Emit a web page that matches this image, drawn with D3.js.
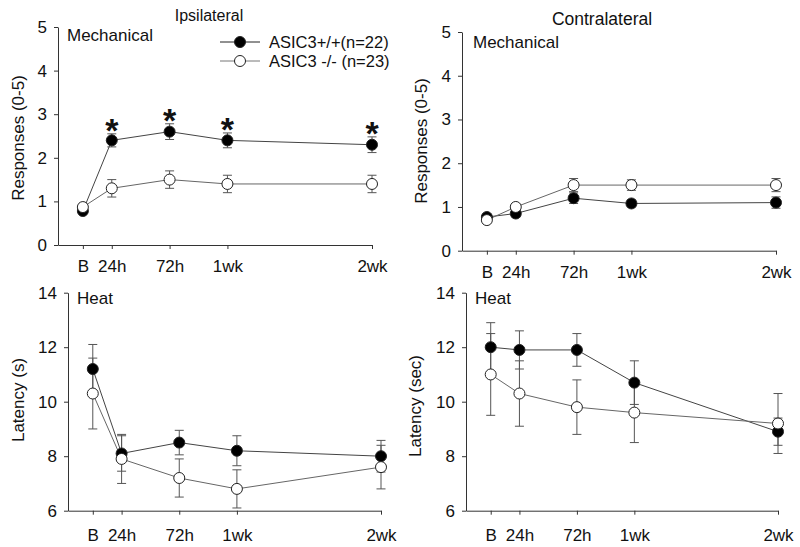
<!DOCTYPE html>
<html>
<head>
<meta charset="utf-8">
<script src="https://cdn.jsdelivr.net/npm/d3@7"></script>
<style>
  body { margin: 0; background: #fff; }
  svg text { font-family: Arial, "Liberation Sans", sans-serif; fill: #111; }
</style>
</head>
<body>
<div id="chart"></div>
<script>
// time points and where they sit on the x axis
var timeLabels = ['B', '24h', '72h', '1wk', '2wk'];
var timePos = [0, 1, 3, 5, 10];

var respTicks = [0, 1, 2, 3, 4, 5];
var latTicks = [6, 8, 10, 12, 14];

var seriesNames = ['ASIC3+/+(n=22)', 'ASIC3 -/- (n=23)'];

// ipsilateral, mechanical
var ipsiMechWT = [0.78, 2.4, 2.6, 2.4, 2.3];
var ipsiMechWTErr = [0.05, 0.15, 0.18, 0.17, 0.18];
var ipsiMechKO = [0.87, 1.3, 1.5, 1.4, 1.4];
var ipsiMechKOErr = [0.05, 0.2, 0.2, 0.2, 0.2];
var ipsiMechSig = [1, 2, 3, 4];

// contralateral, mechanical
var contraMechWT = [0.77, 0.85, 1.2, 1.08, 1.1];
var contraMechWTErr = [0.05, 0.08, 0.12, 0.08, 0.13];
var contraMechKO = [0.7, 1.0, 1.5, 1.5, 1.5];
var contraMechKOErr = [0.05, 0.06, 0.15, 0.12, 0.15];

// ipsilateral, heat
var ipsiHeatWT = [11.2, 8.1, 8.5, 8.2, 8.0];
var ipsiHeatWTErr = [0.9, 0.65, 0.45, 0.55, 0.58];
var ipsiHeatKO = [10.3, 7.9, 7.2, 6.8, 7.6];
var ipsiHeatKOErr = [1.3, 0.9, 0.7, 0.7, 0.8];

// contralateral, heat
var contraHeatWT = [12.0, 11.9, 11.9, 10.7, 8.9];
var contraHeatWTErr = [0.9, 0.7, 0.6, 0.8, 0.5];
var contraHeatKO = [11.0, 10.3, 9.8, 9.6, 9.2];
var contraHeatKOErr = [1.5, 1.2, 1.0, 1.1, 1.1];

var width = 800, height = 547;

var svg = d3.select('#chart').append('svg')
  .attr('width', width).attr('height', height)
  .style('display', 'block');

svg.append('rect').attr('width', width).attr('height', height).attr('fill', '#fff');

var panels = [
  { title: 'Ipsilateral', titleSize: 16, titleX: 209, titleY: 21, tag: 'Mechanical', tagX: 67, tagY: 41,
    ylabel: 'Responses (0-5)', ylabelX: 18, ylabelY: 138,
    left: 58, right: 372, top: 27, bottom: 245, yDomain: [0, 5], yTicks: respTicks, labelPad: 11,
    wt: ipsiMechWT, wtErr: ipsiMechWTErr, ko: ipsiMechKO, koErr: ipsiMechKOErr,
    sig: ipsiMechSig, legend: true },
  { title: 'Contralateral', titleSize: 17.5, titleX: 602, titleY: 25, tag: 'Mechanical', tagX: 473, tagY: 48,
    ylabel: 'Responses (0-5)', ylabelX: 421, ylabelY: 141,
    left: 462, right: 776, top: 32, bottom: 250.7, yDomain: [0, 5], yTicks: respTicks, labelPad: 11,
    wt: contraMechWT, wtErr: contraMechWTErr, ko: contraMechKO, koErr: contraMechKOErr,
    sig: [], legend: false },
  { title: null, tag: 'Heat', tagX: 77, tagY: 304,
    ylabel: 'Latency (s)', ylabelX: 18, ylabelY: 400,
    left: 68, right: 381, top: 292.7, bottom: 510.7, yDomain: [6, 14], yTicks: latTicks, labelPad: 14,
    wt: ipsiHeatWT, wtErr: ipsiHeatWTErr, ko: ipsiHeatKO, koErr: ipsiHeatKOErr,
    sig: [], legend: false },
  { title: null, tag: 'Heat', tagX: 475, tagY: 304,
    ylabel: 'Latency (sec)', ylabelX: 415, ylabelY: 406,
    left: 466, right: 778, top: 292.7, bottom: 510.7, yDomain: [6, 14], yTicks: latTicks, labelPad: 14,
    wt: contraHeatWT, wtErr: contraHeatWTErr, ko: contraHeatKO, koErr: contraHeatKOErr,
    sig: [], legend: false }
];

var axisColor = '#333';
var markerR = 5.5;
var capW = 4.5;
var fs = 17;

panels.forEach(function (p) {
  var x = d3.scaleLinear().domain([-0.86, 10]).range([p.left, p.right]);
  var y = d3.scaleLinear().domain(p.yDomain).range([p.bottom, p.top]);
  var g = svg.append('g');

  // axes
  var yAxis = g.append('g')
    .attr('transform', 'translate(' + p.left + ',0)')
    .call(d3.axisLeft(y).tickValues(p.yTicks).tickFormat(d3.format('d'))
      .tickSize(4).tickSizeOuter(0).tickPadding(7));
  var xAxis = g.append('g')
    .attr('transform', 'translate(0,' + p.bottom + ')')
    .call(d3.axisBottom(x).tickValues(timePos).tickSize(4).tickSizeOuter(0).tickPadding(p.labelPad)
      .tickFormat(function (d, i) { return timeLabels[i]; }));
  [yAxis, xAxis].forEach(function (a) {
    a.selectAll('path, line').attr('stroke', axisColor);
    a.selectAll('text').attr('font-size', fs).attr('fill', '#111')
      .style('font-family', 'Arial, "Liberation Sans", sans-serif');
  });

  if (p.title) {
    g.append('text').attr('x', p.titleX).attr('y', p.titleY)
      .attr('text-anchor', 'middle').attr('font-size', p.titleSize).text(p.title);
  }
  g.append('text').attr('x', p.tagX).attr('y', p.tagY).attr('font-size', fs).text(p.tag);
  g.append('text')
    .attr('transform', 'translate(' + p.ylabelX + ',' + p.ylabelY + ') rotate(-90)')
    .attr('text-anchor', 'middle').attr('dy', '0.35em').attr('font-size', fs).text(p.ylabel);

  var series = [
    { vals: p.wt, errs: p.wtErr, fill: '#000', line: '#444' },
    { vals: p.ko, errs: p.koErr, fill: '#fff', line: '#666' }
  ];

  // error bars
  series.forEach(function (s) {
    var eb = g.append('g').attr('stroke', '#555').attr('stroke-width', 1);
    s.vals.forEach(function (v, i) {
      var cx = x(timePos[i]), e = s.errs[i];
      eb.append('line').attr('x1', cx).attr('x2', cx).attr('y1', y(v - e)).attr('y2', y(v + e));
      eb.append('line').attr('x1', cx - capW).attr('x2', cx + capW).attr('y1', y(v + e)).attr('y2', y(v + e));
      eb.append('line').attr('x1', cx - capW).attr('x2', cx + capW).attr('y1', y(v - e)).attr('y2', y(v - e));
    });
  });

  // connecting lines
  var line = d3.line()
    .x(function (d, i) { return x(timePos[i]); })
    .y(function (d) { return y(d); });
  series.forEach(function (s) {
    g.append('path').datum(s.vals).attr('d', line)
      .attr('fill', 'none').attr('stroke', s.line).attr('stroke-width', 1);
  });

  // markers
  series.forEach(function (s) {
    g.selectAll(null).data(s.vals).enter().append('circle')
      .attr('cx', function (d, i) { return x(timePos[i]); })
      .attr('cy', function (d) { return y(d); })
      .attr('r', markerR)
      .attr('fill', s.fill).attr('stroke', '#222').attr('stroke-width', 1);
  });

  // significance stars
  p.sig.forEach(function (i) {
    g.append('text')
      .attr('x', x(timePos[i])).attr('y', y(p.wt[i] + p.wtErr[i]) + 8)
      .attr('text-anchor', 'middle').attr('font-size', 34).attr('font-weight', 'bold')
      .text('*');
  });

  if (p.legend) {
    var lg = g.append('g');
    [42, 61].forEach(function (ly, k) {
      lg.append('line').attr('x1', 220).attr('x2', 260).attr('y1', ly).attr('y2', ly)
        .attr('stroke', k === 0 ? '#222' : '#777').attr('stroke-width', 1);
      lg.append('circle').attr('cx', 240).attr('cy', ly).attr('r', markerR)
        .attr('fill', k === 0 ? '#000' : '#fff').attr('stroke', '#222');
      lg.append('text').attr('x', 269).attr('y', ly).attr('dy', '0.35em')
        .attr('font-size', 16.5).text(seriesNames[k]);
    });
  }
});
</script>
</body>
</html>
